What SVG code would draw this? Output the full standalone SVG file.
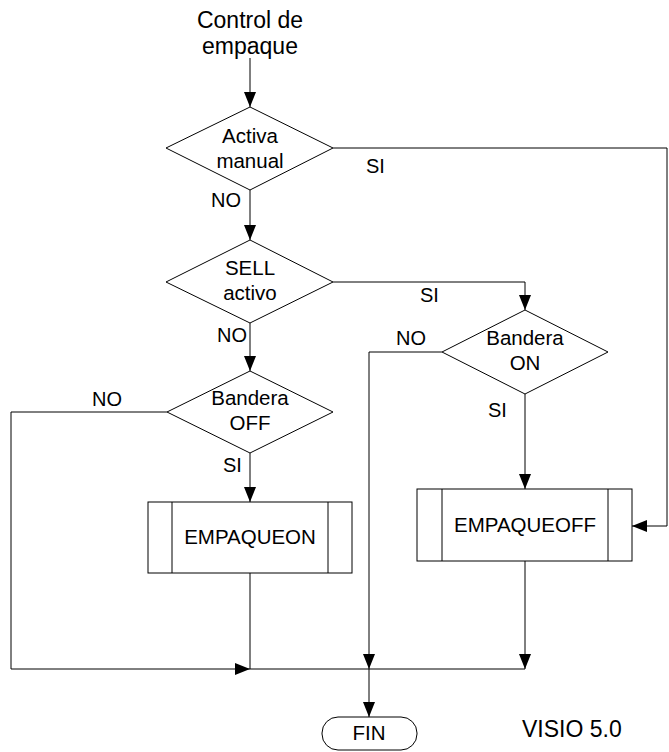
<svg xmlns="http://www.w3.org/2000/svg" width="669" height="752" viewBox="0 0 669 752">
  <style>
    .shape { fill: #ffffff; stroke: #000000; stroke-width: 1; }
    .wire { fill: none; stroke: #000000; stroke-width: 1; }
    .arr { marker-end: url(#head); }
    text { font-family: "Liberation Sans", Arial, sans-serif; fill: #000000; }
    .t { font-size: 20.5px; text-anchor: middle; }
    .lbl { font-size: 20px; }
    .title { font-size: 23px; text-anchor: middle; }
  </style>
  <defs>
    <marker id="head" markerUnits="userSpaceOnUse" markerWidth="15" markerHeight="12" refX="15" refY="6" orient="auto">
      <path d="M0,0 L15,6 L0,12 z" fill="#000000"/>
    </marker>
  </defs>
  <rect width="669" height="752" fill="#ffffff"/>

  <!-- connectors -->
  <g id="connectors">
    <path class="wire arr" d="M250,58 V107"/>
    <path class="wire arr" d="M333,148 H667 V526 H632"/>
    <path class="wire arr" d="M250,190 V240"/>
    <path class="wire arr" d="M333,282 H525 V310"/>
    <path class="wire arr" d="M250,323 V371"/>
    <path class="wire arr" d="M442,352 H369 V669"/>
    <path class="wire arr" d="M525,394 V489"/>
    <path class="wire arr" d="M167,412 H11 V669 H250"/>
    <path class="wire arr" d="M250,453 V502"/>
    <path class="wire" d="M250,573 V669 H525"/>
    <path class="wire arr" d="M525,561 V669"/>
    <path class="wire arr" d="M369,669 V717"/>
    <text class="lbl" x="366" y="173">SI</text>
    <text class="lbl" x="211" y="207">NO</text>
    <text class="lbl" x="420" y="302">SI</text>
    <text class="lbl" x="217" y="342">NO</text>
    <text class="lbl" x="396" y="345">NO</text>
    <text class="lbl" x="92" y="406">NO</text>
    <text class="lbl" x="223" y="472">SI</text>
    <text class="lbl" x="488" y="417">SI</text>
  </g>

  <g id="start">
    <text class="title" x="250" y="28">Control de</text>
    <text class="title" x="250" y="54">empaque</text>
  </g>

  <g id="activa-manual">
    <polygon class="shape" points="250,107 333,148 250,190 166,148"/>
    <text class="t" x="250" y="143">Activa</text>
    <text class="t" x="250" y="168">manual</text>
  </g>

  <g id="sell-activo">
    <polygon class="shape" points="250,240 333,282 250,323 166,282"/>
    <text class="t" x="250" y="275">SELL</text>
    <text class="t" x="250" y="300">activo</text>
  </g>

  <g id="bandera-on">
    <polygon class="shape" points="525,310 608,352 525,394 442,352"/>
    <text class="t" x="525" y="345">Bandera</text>
    <text class="t" x="525" y="370">ON</text>
  </g>

  <g id="bandera-off">
    <polygon class="shape" points="250,371 333,412 250,453 167,412"/>
    <text class="t" x="250" y="405">Bandera</text>
    <text class="t" x="250" y="430">OFF</text>
  </g>

  <g id="empaqueon">
    <rect class="shape" x="148" y="502" width="204" height="71"/>
    <line class="wire" x1="172" y1="502" x2="172" y2="573"/>
    <line class="wire" x1="328" y1="502" x2="328" y2="573"/>
    <text class="t" x="250" y="544">EMPAQUEON</text>
  </g>

  <g id="empaqueoff">
    <rect class="shape" x="417" y="489" width="215" height="72"/>
    <line class="wire" x1="442" y1="489" x2="442" y2="561"/>
    <line class="wire" x1="608" y1="489" x2="608" y2="561"/>
    <text class="t" x="525" y="532">EMPAQUEOFF</text>
  </g>

  <g id="fin">
    <rect class="shape" x="322" y="717" width="95" height="33" rx="16" ry="16"/>
    <text class="t" x="369" y="740">FIN</text>
  </g>

  <g id="version-note">
    <text x="522" y="737" style="font-size:23px">VISIO 5.0</text>
  </g>
</svg>
